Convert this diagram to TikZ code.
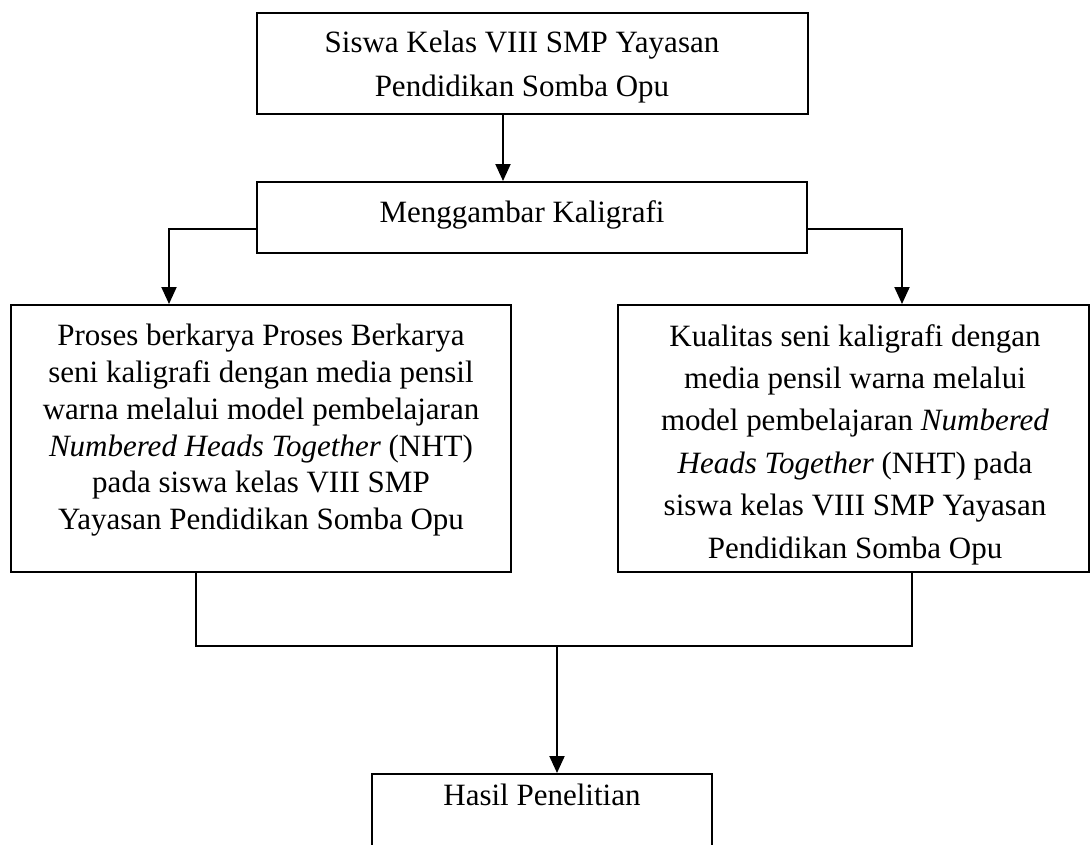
\documentclass[tikz,border=0pt]{standalone}
\usepackage{fontspec}
\setmainfont{Liberation Serif}
\usetikzlibrary{arrows.meta}
\tikzset{
  box/.style={draw=black, line width=2pt, rectangle, inner sep=0pt, fill=none},
  txt/.style={inner sep=0pt, align=center},
  conn/.style={draw=black, line width=2pt},
  arr/.style={conn, -{Triangle[length=17pt,width=15pt]}}
}
\begin{document}
\begin{tikzpicture}[x=1pt,y=-1pt]
\useasboundingbox (0,0) rectangle (1090,844);
\clip (0,0) rectangle (1090,844);
\fill[white] (0,0) rectangle (1090,844);

% boxes
\node[box, minimum width=551pt, minimum height=101pt] (siswa) at (532.5,63.5) {};
\node[box, minimum width=550pt, minimum height=71pt] (gambar) at (532,217.5) {};
\node[box, minimum width=500pt, minimum height=267pt] (proses) at (261,438.5) {};
\node[box, minimum width=471pt, minimum height=267pt] (kualitas) at (853.5,438.5) {};
\node[box, minimum width=340pt, minimum height=160pt] (hasil) at (542,854) {};

% texts
\node[txt, anchor=north, font=\fontsize{31}{43.5}\selectfont] (tsiswa) at (522,31)
  {Siswa Kelas VIII SMP Yayasan\\Pendidikan Somba Opu};
\node[txt, anchor=base, font=\fontsize{31}{37}\selectfont] (tgambar) at (522,222)
  {Menggambar Kaligrafi};
\node[txt, anchor=north, font=\fontsize{31}{36.8}\selectfont] (tproses) at (261,324)
  {Proses berkarya Proses Berkarya\\
   seni kaligrafi dengan media pensil\\
   warna melalui model pembelajaran\\
   \textit{Numbered Heads Together} (NHT)\\
   pada siswa kelas VIII SMP\\
   Yayasan Pendidikan Somba Opu};
\node[txt, anchor=north, font=\fontsize{31}{42.4}\selectfont] (tkualitas) at (855,324)
  {Kualitas seni kaligrafi dengan\\
   media pensil warna melalui\\
   model pembelajaran \textit{Numbered}\\
   \textit{Heads Together} (NHT) pada\\
   siswa kelas VIII SMP Yayasan\\
   Pendidikan Somba Opu};
\node[txt, anchor=base, font=\fontsize{31}{37}\selectfont] (thasil) at (542,805)
  {Hasil Penelitian};

% connector helper coordinates
\coordinate (a1) at (503,0);
\coordinate (jl) at (169,229);
\coordinate (jr) at (902,229);
\coordinate (bl) at (196,646);
\coordinate (br) at (912,646);
\coordinate (bm) at (557,646);

% connectors
\draw[arr] (siswa.south -| a1) -- (gambar.north -| a1);
\draw[arr] (gambar.west |- jl) -| (proses.north -| jl);
\draw[arr] (gambar.east |- jr) -| (kualitas.north -| jr);
\draw[conn] (proses.south -| bl) -- (bl) -- (br) -- (kualitas.south -| br);
\draw[arr] (bm) -- (hasil.north -| bm);
\end{tikzpicture}
\end{document}
